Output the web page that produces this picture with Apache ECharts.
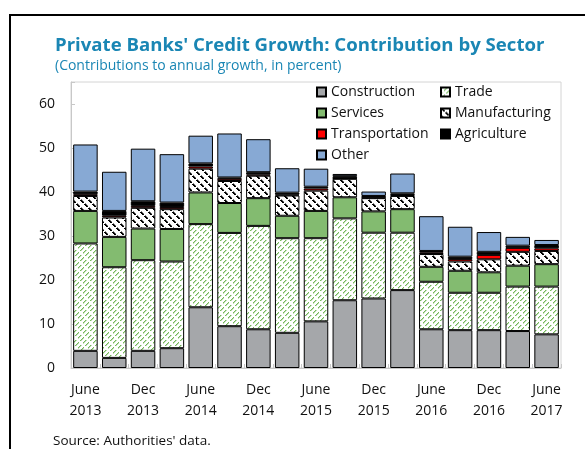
<!DOCTYPE html>
<html>
<head>
<meta charset="utf-8">
<script src="https://cdn.jsdelivr.net/npm/echarts@6/dist/echarts.min.js"></script>
<style>
  html, body { margin: 0; padding: 0; background: #fff; }
  #chart { width: 585px; height: 449px; }
</style>
</head>
<body>
<div id="chart"></div>
<script>
// Quarterly observations
const categories = [
  'June 2013', 'Sep 2013', 'Dec 2013', 'Mar 2014', 'June 2014', 'Sep 2014',
  'Dec 2014', 'Mar 2015', 'June 2015', 'Sep 2015', 'Dec 2015', 'Mar 2016',
  'June 2016', 'Sep 2016', 'Dec 2016', 'Mar 2017', 'June 2017'
];

// Contributions to annual growth, in percentage points
const construction   = [3.9, 2.3, 3.9, 4.5, 13.8, 9.5, 8.8, 8.0, 10.6, 15.4, 15.8, 17.7, 8.8, 8.6, 8.6, 8.4, 7.65];
const trade          = [24.4, 20.6, 20.6, 19.7, 18.9, 21.2, 23.5, 21.5, 18.9, 18.6, 14.95, 13.05, 10.8, 8.5, 8.5, 10.1, 10.85];
const services       = [7.4, 6.9, 7.2, 7.4, 7.2, 6.8, 6.3, 5.1, 6.2, 4.8, 4.85, 5.35, 3.4, 5.0, 4.65, 4.75, 5.1];
const manufacturing  = [3.4, 4.4, 4.7, 4.5, 5.4, 5.0, 5.1, 4.6, 4.6, 4.2, 3.0, 3.0, 2.9, 2.1, 2.95, 3.15, 3.0];
const transportation = [0.4, 0.4, 0.45, 0.5, 0.5, 0.5, 0.3, 0.2, 0.5, 0.1, 0.1, 0.2, 0.4, 0.55, 1.0, 0.9, 0.6];
const agriculture    = [0.6, 1.1, 1.05, 1.0, 0.7, 0.3, 0.5, 0.45, 0.4, 0.5, 0.4, 0.4, 0.3, 0.55, 0.7, 0.5, 0.75];
const other          = [10.7, 8.9, 11.95, 11.0, 6.3, 10.0, 7.5, 5.55, 4.1, 0.5, 1.0, 4.5, 7.9, 6.8, 4.5, 2.0, 1.15];

const yTicks = [0, 10, 20, 30, 40, 50, 60];

const FONT = "'Open Sans', 'Noto Sans', sans-serif";
const TITLE_COLOR = '#1a86b4';

// Green dashed upward-diagonal hatch on white
function tradePattern() {
  const n = 10;
  const c = document.createElement('canvas');
  c.width = n; c.height = n;
  const g = c.getContext('2d');
  g.fillStyle = '#ffffff';
  g.fillRect(0, 0, n, n);
  for (let x = 0; x < n; x++) {
    for (let y = 0; y < n; y++) {
      const d = (x + y) % 5;
      const s = (((x - y) % 10) + 10) % 10;
      const on = s < 7;
      if (!on) continue;
      if (d === 0) { g.fillStyle = '#74b85a'; g.fillRect(x, y, 1, 1); }
      else if (d === 1) { g.fillStyle = 'rgba(116,184,90,0.45)'; g.fillRect(x, y, 1, 1); }
    }
  }
  return { image: c, repeat: 'repeat' };
}

// Black dashed downward-diagonal hatch on white
function manufacturingPattern() {
  const n = 8;
  const c = document.createElement('canvas');
  c.width = n; c.height = n;
  const g = c.getContext('2d');
  g.fillStyle = '#ffffff';
  g.fillRect(0, 0, n, n);
  for (let x = 0; x < n; x++) {
    for (let y = 0; y < n; y++) {
      const d = (((x - y) % n) + n) % n;
      const s = (x + y) % n;
      if (d <= 1 && s < 6) { g.fillStyle = '#000000'; g.fillRect(x, y, 1, 1); }
      else if (d === 2 && s < 6) { g.fillStyle = 'rgba(0,0,0,0.5)'; g.fillRect(x, y, 1, 1); }
    }
  }
  return { image: c, repeat: 'repeat' };
}

function barSeries(name, data, color) {
  return {
    name: name,
    type: 'bar',
    stack: 'total',
    data: data,
    barCategoryGap: '15%',
    itemStyle: { color: color, borderColor: '#000', borderWidth: 1 },
    emphasis: { disabled: true }
  };
}

const chart = echarts.init(document.getElementById('chart'), null, { renderer: 'canvas' });

const legendText = { fontFamily: FONT, fontSize: 14, color: '#111', lineHeight: 16 };

chart.setOption({
  animation: false,
  backgroundColor: '#fff',
  title: [
    {
      text: "Private Banks' Credit Growth: Contribution by Sector",
      left: 50, top: 29,
      textStyle: { fontFamily: FONT, fontSize: 18.6, fontWeight: 'bold', color: TITLE_COLOR, lineHeight: 23 }
    },
    {
      text: '(Contributions to annual growth, in percent)',
      left: 50, top: 52,
      textStyle: { fontFamily: FONT, fontSize: 14, fontWeight: 'normal', color: TITLE_COLOR, lineHeight: 18 }
    },
    {
      text: "Source: Authorities' data.",
      left: 48, top: 427,
      textStyle: { fontFamily: FONT, fontSize: 13.5, fontWeight: 'normal', color: '#111', lineHeight: 18 }
    }
  ],
  legend: [
    {
      orient: 'vertical', left: 316, top: 84, padding: 0,
      itemWidth: 9, itemHeight: 9, itemGap: 5, icon: 'rect',
      textStyle: legendText,
      data: ['Construction', 'Services', 'Transportation', 'Other']
    },
    {
      orient: 'vertical', left: 440, top: 84, padding: 0,
      itemWidth: 9, itemHeight: 9, itemGap: 5, icon: 'rect',
      textStyle: legendText,
      data: ['Trade', 'Manufacturing', 'Agriculture']
    }
  ],
  grid: {
    left: 71, right: 24, top: 82, bottom: 81,
    show: true, borderColor: '#d4d4d4', borderWidth: 1, containLabel: false
  },
  xAxis: {
    type: 'category',
    data: categories,
    axisLine: { lineStyle: { color: '#c8c8c8', width: 1 } },
    axisTick: { show: true, inside: true, length: 4, interval: 0, lineStyle: { color: '#c8c8c8' } },
    axisLabel: {
      interval: 1,
      margin: 12,
      fontFamily: FONT, fontSize: 14, color: '#111', lineHeight: 21,
      formatter: v => v.replace(' ', '\n')
    }
  },
  yAxis: {
    type: 'value',
    min: 0, max: 65, interval: 10,
    splitLine: { show: false },
    axisLine: { show: true, lineStyle: { color: '#c8c8c8' } },
    axisTick: { show: true, inside: true, length: 4, lineStyle: { color: '#c8c8c8' } },
    axisLabel: {
      margin: 16,
      fontFamily: FONT, fontSize: 14, color: '#111',
      formatter: v => (yTicks.indexOf(v) >= 0 ? String(v) : '')
    }
  },
  series: [
    barSeries('Construction', construction, '#a5a7aa'),
    barSeries('Trade', trade, tradePattern()),
    barSeries('Services', services, '#83bb70'),
    barSeries('Manufacturing', manufacturing, manufacturingPattern()),
    barSeries('Transportation', transportation, '#ff0000'),
    barSeries('Agriculture', agriculture, '#000000'),
    barSeries('Other', other, '#87a9d4')
  ],
  graphic: [
    { type: 'line', shape: { x1: 10, y1: 15, x2: 585, y2: 15 }, style: { stroke: '#000', lineWidth: 2 }, silent: true },
    { type: 'line', shape: { x1: 10, y1: 14, x2: 10, y2: 449 }, style: { stroke: '#000', lineWidth: 2 }, silent: true }
  ]
});
</script>
</body>
</html>
